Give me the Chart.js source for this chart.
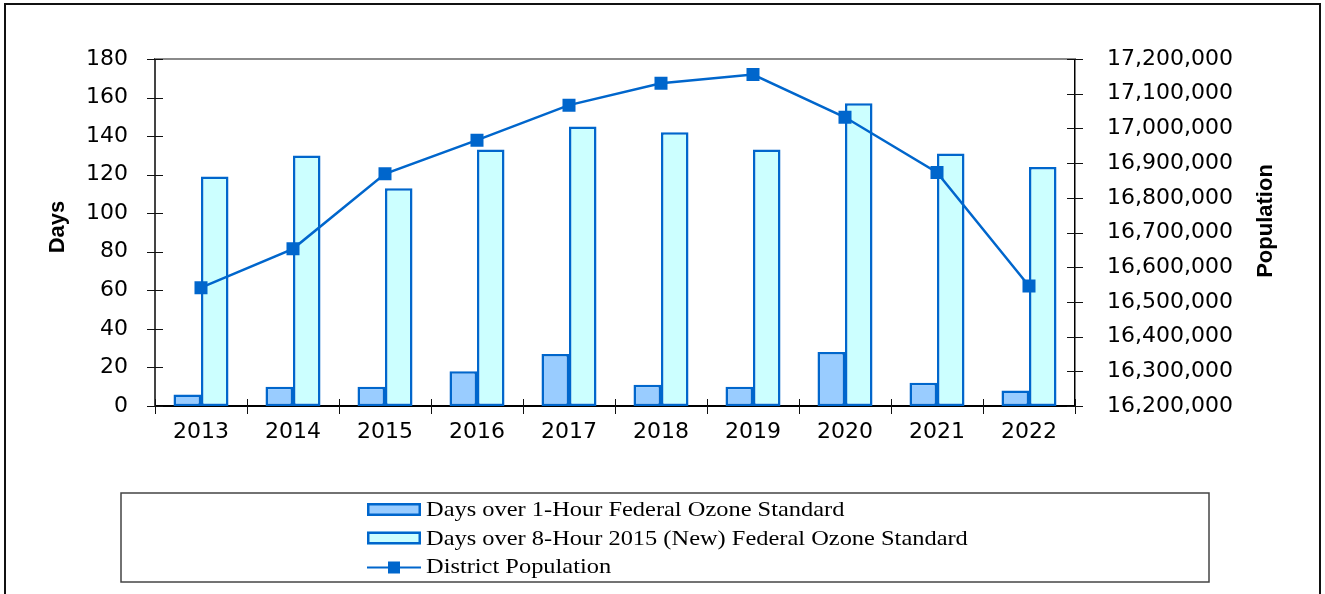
<!DOCTYPE html>
<html>
<head>
<meta charset="utf-8">
<script src="https://cdn.jsdelivr.net/npm/chart.js@4"></script>
<style>
html,body{margin:0;padding:0;background:#fff;}
#wrap{width:1325px;height:594px;position:relative;}
canvas{display:block;}
</style>
</head>
<body>
<div id="wrap"><canvas id="c" width="1325" height="594"></canvas></div>
<script>
// ---- data ----
const years = ['2013','2014','2015','2016','2017','2018','2019','2020','2021','2022'];
const days1Hour = [6, 10, 10, 18, 27, 11, 10, 28, 12, 8];
const days8Hour2015 = [119, 130, 113, 133, 145, 142, 133, 157, 131, 124];
const districtPopulation = [16541000, 16653000, 16869000, 16966000, 17067000, 17130000, 17155000, 17032000, 16873000, 16546000];
const seriesLabels = ['Days over 1-Hour Federal Ozone Standard', 'Days over 8-Hour 2015 (New) Federal Ozone Standard', 'District Population'];
const axisTitles = ['Days', 'Population'];

const BLUE = '#0066CC';
const FILL1 = '#99CCFF';
const FILL2 = '#CCFFFF';
const TICKFONT = {family: "'DejaVu Sans', sans-serif", size: 22};

const decor = {
  id: 'decor',
  beforeDraw(chart) {
    const ctx = chart.ctx;
    ctx.save();
    ctx.fillStyle = '#fff';
    ctx.fillRect(0, 0, chart.width, chart.height);
    ctx.restore();
  },
  afterDraw(chart) {
    const ctx = chart.ctx, a = chart.chartArea;
    const sx = chart.scales.x, sy = chart.scales.y, sy1 = chart.scales.y1;
    ctx.save();
    // top border of plot
    ctx.strokeStyle = '#8a8a8a';
    ctx.lineWidth = 2;
    ctx.beginPath(); ctx.moveTo(a.left, a.top); ctx.lineTo(a.right, a.top); ctx.stroke();
    // crossing tick marks
    ctx.strokeStyle = '#111';
    ctx.lineWidth = 1;
    ctx.beginPath();
    sy.ticks.forEach((t, i) => {
      const y = Math.round(sy.getPixelForTick(i)) + 0.5;
      ctx.moveTo(a.left - 8, y); ctx.lineTo(a.left + 8, y);
    });
    sy1.ticks.forEach((t, i) => {
      const y = Math.round(sy1.getPixelForTick(i)) + 0.5;
      ctx.moveTo(a.right - 8, y); ctx.lineTo(a.right + 8, y);
    });
    const half = (sx.getPixelForValue(1) - sx.getPixelForValue(0)) / 2;
    for (let i = 0; i <= years.length; i++) {
      const x = Math.round(sx.getPixelForValue(i) - half) + 0.5;
      ctx.moveTo(x, a.bottom - 7); ctx.lineTo(x, a.bottom + 8);
    }
    ctx.stroke();

    // axis titles
    ctx.fillStyle = '#000';
    ctx.font = "bold 22px 'Liberation Sans', Arial, sans-serif";
    ctx.textAlign = 'center';
    ctx.textBaseline = 'alphabetic';
    ctx.save(); ctx.translate(64, 227); ctx.rotate(-Math.PI / 2); ctx.fillText(axisTitles[0], 0, 0); ctx.restore();
    ctx.save(); ctx.translate(1272, 221); ctx.rotate(-Math.PI / 2); ctx.fillText(axisTitles[1], 0, 0); ctx.restore();

    // legend box
    ctx.strokeStyle = '#444';
    ctx.lineWidth = 1.5;
    ctx.strokeRect(121, 493, 1088, 89);
    const lx = 367, lw = 54, tx = 426;
    const baselines = [516, 544.5, 573];
    const ds = chart.data.datasets;
    // bar swatches
    [0, 1].forEach(k => {
      const d = ds.find(s => s.label === seriesLabels[k]);
      ctx.fillStyle = d.backgroundColor;
      ctx.fillRect(lx, baselines[k] - 13, lw, 13);
      ctx.strokeStyle = BLUE; ctx.lineWidth = 2.5;
      ctx.strokeRect(lx + 1.25, baselines[k] - 13 + 1.25, lw - 2.5, 13 - 2.5);
    });
    // line swatch
    const ly = baselines[2] - 5.5;
    ctx.strokeStyle = BLUE; ctx.lineWidth = 2;
    ctx.beginPath(); ctx.moveTo(lx, ly); ctx.lineTo(lx + lw, ly); ctx.stroke();
    ctx.fillStyle = BLUE;
    ctx.fillRect(lx + lw / 2 - 6, ly - 6, 12, 12);
    // legend texts
    ctx.fillStyle = '#000';
    ctx.font = "22px 'Liberation Serif', 'Times New Roman', serif";
    ctx.textAlign = 'left';
    seriesLabels.forEach((s, k) => {
      ctx.save();
      ctx.translate(tx, baselines[k]);
      ctx.scale(1.11, 1);
      ctx.fillText(s, 0, 0);
      ctx.restore();
    });

    // outer frame
    ctx.strokeStyle = '#111';
    ctx.lineWidth = 2;
    ctx.beginPath();
    ctx.moveTo(5, 594); ctx.lineTo(5, 4); ctx.lineTo(1320, 4); ctx.lineTo(1320, 594);
    ctx.stroke();
    ctx.restore();
  }
};

new Chart(document.getElementById('c'), {
  data: {
    labels: years,
    datasets: [
      {
        type: 'line', label: seriesLabels[2], data: districtPopulation, yAxisID: 'y1', order: 0,
        borderColor: BLUE, backgroundColor: BLUE, borderWidth: 2.5,
        pointStyle: 'rect', pointRadius: 9.2, pointBorderWidth: 0, pointBackgroundColor: BLUE,
        tension: 0, fill: false
      },
      {
        type: 'bar', label: seriesLabels[0], data: days1Hour, yAxisID: 'y', order: 1,
        backgroundColor: FILL1, borderColor: BLUE, borderWidth: 2.5, borderSkipped: false,
        categoryPercentage: 0.598, barPercentage: 1.0
      },
      {
        type: 'bar', label: seriesLabels[1], data: days8Hour2015, yAxisID: 'y', order: 1,
        backgroundColor: FILL2, borderColor: BLUE, borderWidth: 2.5, borderSkipped: false,
        categoryPercentage: 0.598, barPercentage: 1.0
      }
    ]
  },
  options: {
    responsive: false,
    animation: false,
    devicePixelRatio: 1,
    layout: {padding: {top: 59, left: 0, right: 0, bottom: 0}},
    plugins: {legend: {display: false}, tooltip: {enabled: false}, title: {display: false}},
    scales: {
      x: {
        type: 'category', position: 'bottom', offset: true,
        grid: {display: false, drawTicks: false, offset: true},
        border: {display: true, color: '#000', width: 2},
        ticks: {color: '#000', font: TICKFONT, padding: 13, maxRotation: 0, autoSkip: false},
        afterFit(s) { s.height = 188; }
      },
      y: {
        position: 'left', min: 0, max: 180,
        grid: {display: false, drawTicks: false},
        border: {display: true, color: '#444', width: 2},
        ticks: {stepSize: 20, color: '#000', font: TICKFONT, padding: 27},
        afterFit(s) { s.width = 155; }
      },
      y1: {
        position: 'right', min: 16200000, max: 17200000,
        grid: {display: false, drawTicks: false},
        border: {display: true, color: '#000', width: 1.5},
        ticks: {stepSize: 100000, color: '#000', font: TICKFONT, padding: 32,
          callback: v => Number(v).toLocaleString('en-US')},
        afterFit(s) { s.width = 250; }
      }
    }
  },
  plugins: [decor]
});
</script>
</body>
</html>
